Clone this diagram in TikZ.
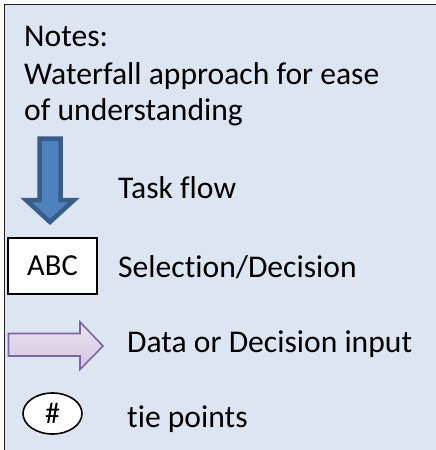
\documentclass[tikz,border=0pt]{standalone}
\usepackage{fontspec}
\setmainfont[Ligatures=NoCommon]{Carlito}
\usetikzlibrary{shapes.geometric}
\definecolor{panelbg}{HTML}{DCE6F2}
\definecolor{panelline}{HTML}{1F1F1F}
\definecolor{flowfill}{HTML}{4F81BD}
\definecolor{flowline}{HTML}{385D8A}
\definecolor{datatop}{HTML}{EAE4F1}
\definecolor{databot}{HTML}{D2C6E2}
\definecolor{dataline}{HTML}{8064A2}
\tikzset{
  px/.style={x=1pt,y=-1pt},
  legendtext/.style={anchor=base west,inner sep=0pt,font=\fontsize{31.6}{37}\selectfont},
  selbox/.style={draw=black,line width=1.2pt,fill=white,minimum width=89pt,minimum height=56pt,inner sep=0pt,font=\fontsize{30.5}{36}\selectfont},
  tiepoint/.style={draw=black,line width=1.6pt,fill=white,ellipse,minimum width=59pt,minimum height=41pt,inner sep=0pt,font=\fontsize{30}{36}\selectfont}
}
\begin{document}
\begin{tikzpicture}[px]
\useasboundingbox (0,0) rectangle (436,450);
\clip (0,0) rectangle (436,450);
\fill[panelbg] (4.5,4.5) rectangle (700,700);
\draw[draw=panelline,line width=1.5pt] (4.5,700) -- (4.5,4.5) -- (700,4.5);
\node[legendtext] (notes) at (24,46) {Notes:};
\node[legendtext] (water) at (24,84) {Waterfall approach for ease};
\node[legendtext] (under) at (24,120) {of understanding};
% blue task flow arrow
\draw[fill=flowfill,draw=flowline,line width=4.5pt,line join=miter]
  (39.5,138.5) -- (60.5,138.5) -- (60.5,200) -- (74,200) -- (50,222) -- (26,200) -- (39.5,200) -- cycle;
\node[legendtext] (task) at (118,198) {Task flow};
\node[selbox] (abc) at (52.5,266) {ABC};
\node[legendtext] (sel) at (118,277) {Selection/Decision};
% purple data arrow
\shade[top color=datatop,bottom color=databot]
  (8.5,333.5) -- (80,333.5) -- (80,322) -- (103,346) -- (80,369.5) -- (80,356) -- (8.5,356) -- cycle;
\draw[draw=dataline,line width=1.6pt,line join=miter]
  (8.5,333.5) -- (80,333.5) -- (80,322) -- (103,346) -- (80,369.5) -- (80,356) -- (8.5,356) -- cycle;
\node[legendtext] (data) at (127,352) {Data or Decision input};
\node[tiepoint] (tie) at (52.5,413.5) {\#};
\node[legendtext] (tiep) at (127,427) {tie points};
\end{tikzpicture}
\end{document}
